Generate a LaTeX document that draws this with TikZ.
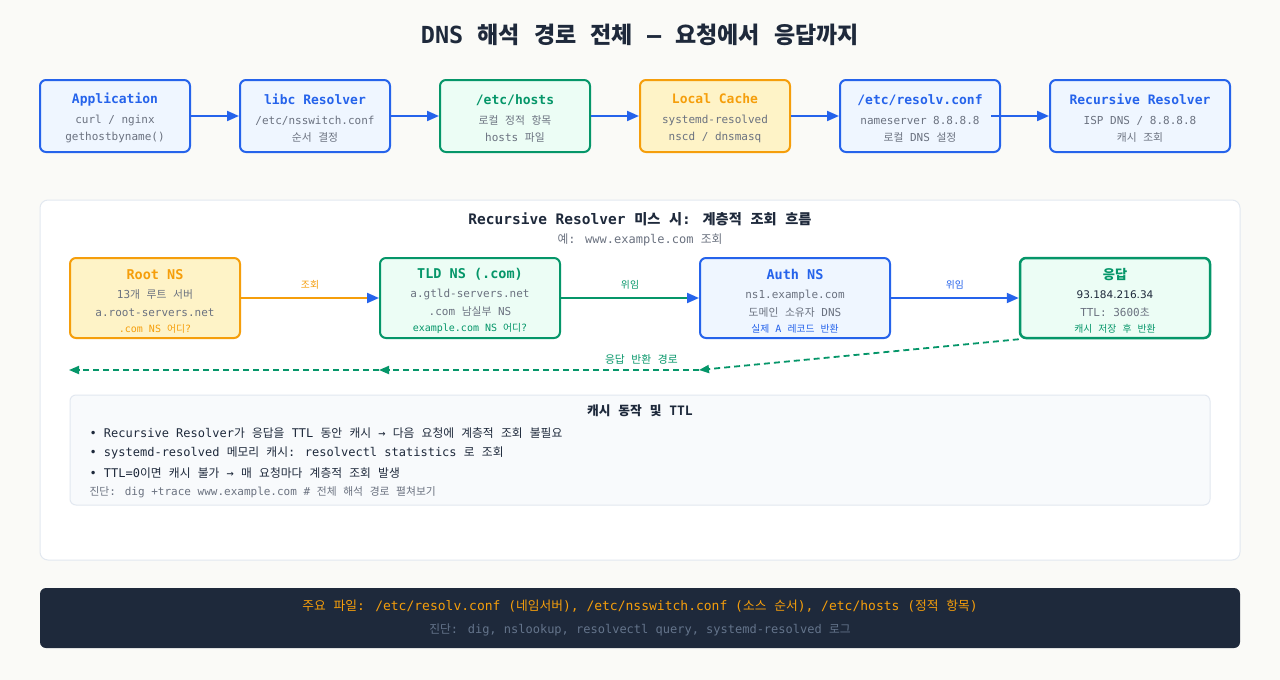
\documentclass[tikz,border=0pt]{standalone}
\usepackage{fontspec}
\usepackage{xcolor}
\usepackage{tikz}
\usetikzlibrary{arrows.meta}
\setmainfont{DejaVu Sans Mono}
\setsansfont{DejaVu Sans}
\newfontfamily\krfont[Scale=0.98]{Noto Sans CJK KR}
% Hangul syllables are set in the Korean family
\XeTeXinterchartokenstate=1
\newXeTeXintercharclass\hangulclass
\newcount\hgcode
\hgcode="AC00
\loop
  \XeTeXcharclass\hgcode=\hangulclass
  \advance\hgcode by 1
\ifnum\hgcode<"D7A4 \repeat
\XeTeXinterchartoks 0 \hangulclass = {\krfont}
\XeTeXinterchartoks 4095 \hangulclass = {\krfont}
\XeTeXinterchartoks \hangulclass 0 = {\rmfamily}
\XeTeXinterchartoks \hangulclass 4095 = {\rmfamily}
\definecolor{navy}{HTML}{1E293B}
\definecolor{dnsblue}{HTML}{2563EB}
\definecolor{dnsbluebg}{HTML}{EFF6FF}
\definecolor{dnsgreen}{HTML}{059669}
\definecolor{dnsgreenbg}{HTML}{ECFDF5}
\definecolor{dnsorange}{HTML}{F59E0B}
\definecolor{dnsorangebg}{HTML}{FEF3C7}
\definecolor{softgray}{HTML}{6B7280}
\definecolor{footgray}{HTML}{64748B}
\definecolor{pagebg}{HTML}{FAFAF7}
\definecolor{panelline}{HTML}{E2E8F0}
\definecolor{cachebg}{HTML}{F8FAFC}

\begin{document}
\begin{tikzpicture}[x=1pt, y=-1pt,
  topbox/.style={draw, rounded corners=6pt, line width=2pt, minimum width=150pt,
    minimum height=72pt, inner sep=0pt, align=center, text=softgray,
    font={\fontsize{11}{17}\selectfont}},
  nsbox/.style={draw, rounded corners=6pt, line width=2pt, minimum height=80pt,
    inner sep=0pt, align=center, text=softgray, font={\fontsize{11}{18}\selectfont}},
  flow/.style={line width=2pt, draw=dnsblue, -{Triangle[length=12pt,width=10pt,color=dnsblue]}},
  back/.style={line width=1.8pt, draw=dnsgreen, dash pattern=on 6pt off 4pt,
    -{Triangle[length=10pt,width=8pt]}},
  edgelabel/.style={font={\fontsize{10}{12}\selectfont}}]

\fill[pagebg] (0,0) rectangle (1280,680);

\node[font={\fontsize{23.5}{28}\selectfont\bfseries}, text=navy] (title) at (640,35)
  {DNS 해석 경로 전체 — 요청에서 응답까지};

% resolution order on the host
\node[topbox, draw=dnsblue, fill=dnsbluebg] (app) at (115,116)
  {\rule{0pt}{15pt}\textcolor{dnsblue}{\fontsize{13}{17}\selectfont\bfseries Application}\\[3pt]curl / nginx\\gethostbyname()};
\node[topbox, draw=dnsblue, fill=dnsbluebg] (libc) at (315,116)
  {\rule{0pt}{15pt}\textcolor{dnsblue}{\fontsize{13}{17}\selectfont\bfseries libc Resolver}\\[3pt]/etc/nsswitch.conf\\순서 결정};
\node[topbox, draw=dnsgreen, fill=dnsgreenbg] (hosts) at (515,116)
  {\rule{0pt}{15pt}\textcolor{dnsgreen}{\fontsize{13}{17}\selectfont\bfseries /etc/hosts}\\[3pt]로컬 정적 항목\\hosts 파일};
\node[topbox, draw=dnsorange, fill=dnsorangebg] (cache) at (715,116)
  {\rule{0pt}{15pt}\textcolor{dnsorange}{\fontsize{13}{17}\selectfont\bfseries Local Cache}\\[3pt]systemd-resolved\\nscd / dnsmasq};
\node[topbox, draw=dnsblue, fill=dnsbluebg, minimum width=160pt] (resolv) at (920,116)
  {\rule{0pt}{15pt}\textcolor{dnsblue}{\fontsize{13}{17}\selectfont\bfseries /etc/resolv.conf}\\[3pt]nameserver 8.8.8.8\\로컬 DNS 설정};
\node[topbox, draw=dnsblue, fill=dnsbluebg, minimum width=180pt] (recres) at (1140,116)
  {\rule{0pt}{15pt}\textcolor{dnsblue}{\fontsize{13}{17}\selectfont\bfseries Recursive Resolver}\\[3pt]ISP DNS / 8.8.8.8\\캐시 조회};

\draw[flow] (app) -- (libc);
\draw[flow] (libc) -- (hosts);
\draw[flow] (hosts) -- (cache);
\draw[flow] (cache) -- (resolv);
\draw[flow] ([xshift=-10pt]resolv.east) -- (recres);

% recursive lookup panel
\node[draw=panelline, fill=white, rounded corners=8pt, line width=1pt,
      minimum width=1200pt, minimum height=360pt] (misspanel) at (640,380) {};
\node[font={\fontsize{14.5}{17}\selectfont\bfseries}, text=navy] (misstitle) at (640,219)
  {Recursive Resolver 미스 시: 계층적 조회 흐름};
\node[font={\fontsize{12}{14}\selectfont}, text=softgray] (missnote) at (640,240)
  {예: www.example.com 조회};

\node[nsbox, draw=dnsorange, fill=dnsorangebg, minimum width=170pt] (rootns) at (155,298)
  {\rule{0pt}{17pt}\textcolor{dnsorange}{\fontsize{13.5}{18}\selectfont\bfseries Root NS}\\[1pt]13개 루트 서버\\a.root-servers.net\\[-2pt]{\fontsize{10}{16}\selectfont\color{dnsorange}.com NS 어디?}};
\node[nsbox, draw=dnsgreen, fill=dnsgreenbg, minimum width=180pt] (tldns) at (470,298)
  {\rule{0pt}{17pt}\textcolor{dnsgreen}{\fontsize{13.5}{18}\selectfont\bfseries TLD NS (.com)}\\[1pt]a.gtld-servers.net\\.com 남실부 NS\\[-2pt]{\fontsize{10}{16}\selectfont\color{dnsgreen}example.com NS 어디?}};
\node[nsbox, draw=dnsblue, fill=dnsbluebg, minimum width=190pt] (authns) at (795,298)
  {\rule{0pt}{17pt}\textcolor{dnsblue}{\fontsize{13.5}{18}\selectfont\bfseries Auth NS}\\[1pt]ns1.example.com\\도메인 소유자 DNS\\[-2pt]{\fontsize{10}{16}\selectfont\color{dnsblue}실제 A 레코드 반환}};
\node[nsbox, draw=dnsgreen, fill=dnsgreenbg, minimum width=190pt, line width=2.5pt] (answer) at (1115,298)
  {\rule{0pt}{17pt}\textcolor{dnsgreen}{\fontsize{13.5}{18}\selectfont\bfseries 응답}\\[1pt]{\sffamily\fontsize{10.5}{18}\selectfont\color{navy}93.184.216.34}\\TTL: 3600초\\[-2pt]{\fontsize{10}{16}\selectfont\color{dnsgreen}캐시 저장 후 반환}};

\draw[line width=2pt, draw=dnsorange, -{Triangle[length=12pt,width=10pt,color=dnsblue]}]
  (rootns) -- node[edgelabel, above=4pt, text=dnsorange] {조회} (tldns);
\draw[line width=2pt, draw=dnsgreen, -{Triangle[length=12pt,width=10pt,color=dnsblue]}]
  (tldns) -- node[edgelabel, above=4pt, text=dnsgreen] {위임} (authns);
\draw[flow] (authns) -- node[edgelabel, above=4pt, text=dnsblue] {위임} (answer);

% answer goes back down the chain
\coordinate (ret1) at (authns.west |- 0,370);
\coordinate (ret2) at (tldns.west |- 0,370);
\coordinate (ret3) at (rootns.west |- 0,370);
\draw[back] (answer.south west) -- (ret1);
\draw[back] (ret1) -- node[pos=0.18, above=1pt, font={\fontsize{11}{13}\selectfont}, text=dnsgreen] {응답 반환 경로} (ret2);
\draw[back] (ret2) -- (ret3);

% cache notes
\node[draw=panelline, fill=cachebg, rounded corners=6pt, line width=1pt,
      minimum width=1140pt, minimum height=110pt] (cachebox) at (640,450) {};
\node[font={\fontsize{13}{15}\selectfont\bfseries}, text=navy] (cachetitle) at (640,411)
  {캐시 동작 및 TTL};
\node[anchor=west, font={\fontsize{12}{14}\selectfont}, text=navy] (note1) at (86,433)
  {• Recursive Resolver가 응답을 TTL 동안 캐시 → 다음 요청에 계층적 조회 불필요};
\node[anchor=west, font={\fontsize{12}{14}\selectfont}, text=navy] (note2) at (86,453)
  {• systemd-resolved 메모리 캐시: resolvectl statistics 로 조회};
\node[anchor=west, font={\fontsize{12}{14}\selectfont}, text=navy] (note3) at (86,473)
  {• TTL=0이면 캐시 불가 → 매 요청마다 계층적 조회 발생};
\node[anchor=west, font={\fontsize{11}{13}\selectfont}, text=softgray] (note4) at (86,492)
  {진단: dig +trace www.example.com \# 전체 해석 경로 펼쳐보기};

% footer
\node[fill=navy, rounded corners=6pt, minimum width=1200pt, minimum height=60pt,
      align=center, font={\fontsize{13}{17}\selectfont}] (footer) at (640,618)
  {\textcolor{dnsorange}{주요 파일: /etc/resolv.conf (네임서버), /etc/nsswitch.conf (소스 순서), /etc/hosts (정적 항목)}\\[6pt]
   \textcolor{footgray}{\fontsize{12}{14}\selectfont 진단: dig, nslookup, resolvectl query, systemd-resolved 로그}};
\end{tikzpicture}
\end{document}
